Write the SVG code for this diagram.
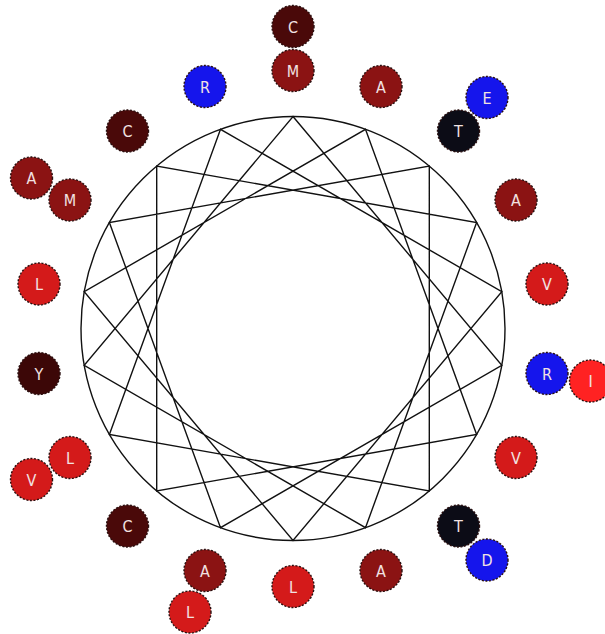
<svg xmlns="http://www.w3.org/2000/svg" width="605" height="634" viewBox="0 0 605 634">
<style>
.res circle{stroke:#2a1010;stroke-width:1.4;stroke-dasharray:2 1.6;}
.res text{font-family:"DejaVu Sans Condensed","DejaVu Sans",sans-serif;font-size:16px;fill:#f2e2e2;text-anchor:middle;}
.c{fill:#4a0909;} .m{fill:#8b1313;} .l{fill:#d41a1a;} .i{fill:#ff2222;} .b{fill:#1515ec;} .t{fill:#0c0c16;} .y{fill:#3c0707;}
.wire{fill:none;stroke:#111;stroke-width:1.4;}
</style>
<rect width="605" height="634" fill="#fff"/>
<g id="connectors">
<circle class="wire" cx="293" cy="328.5" r="212"/>
<polygon class="wire" points="293,116.5 501.8,365.3 220.5,527.7 109.4,222.5 429.3,166.1 429.3,490.9 109.4,434.5 220.5,129.3 501.8,291.7 293,540.5 84.2,291.7 365.5,129.3 476.6,434.5 156.7,490.9 156.7,166.1 476.6,222.5 365.5,527.7 84.2,365.3"/>
</g>
<g id="res-C-top" class="res"><circle class="c" cx="293" cy="26.5" r="21"/><text x="293" y="32.5">C</text></g>
<g id="res-E" class="res"><circle class="b" cx="487" cy="97.5" r="21"/><text x="487" y="103.5">E</text></g>
<g id="res-I" class="res"><circle class="i" cx="590.5" cy="381" r="21"/><text x="590.5" y="387">I</text></g>
<g id="res-D" class="res"><circle class="b" cx="487" cy="560" r="21"/><text x="487" y="566">D</text></g>
<g id="res-L-outer" class="res"><circle class="l" cx="190" cy="612" r="21"/><text x="190" y="618">L</text></g>
<g id="res-V-outer" class="res"><circle class="l" cx="31.5" cy="479.5" r="21"/><text x="31.5" y="485.5">V</text></g>
<g id="res-A-outer" class="res"><circle class="m" cx="31.5" cy="178" r="21"/><text x="31.5" y="184">A</text></g>
<g id="res-M-top" class="res"><circle class="m" cx="293" cy="70.5" r="21"/><text x="293" y="76.5">M</text></g>
<g id="res-A-20" class="res"><circle class="m" cx="381" cy="86.5" r="21"/><text x="381" y="92.5">A</text></g>
<g id="res-T-40" class="res"><circle class="t" cx="458.5" cy="131" r="21"/><text x="458.5" y="137">T</text></g>
<g id="res-A-60" class="res"><circle class="m" cx="516" cy="200" r="21"/><text x="516" y="206">A</text></g>
<g id="res-V-80" class="res"><circle class="l" cx="547" cy="284" r="21"/><text x="547" y="290">V</text></g>
<g id="res-R-100" class="res"><circle class="b" cx="547" cy="373.5" r="21"/><text x="547" y="379.5">R</text></g>
<g id="res-V-120" class="res"><circle class="l" cx="516" cy="457.5" r="21"/><text x="516" y="463.5">V</text></g>
<g id="res-T-140" class="res"><circle class="t" cx="458.5" cy="526" r="21"/><text x="458.5" y="532">T</text></g>
<g id="res-A-160" class="res"><circle class="m" cx="381" cy="570.5" r="21"/><text x="381" y="576.5">A</text></g>
<g id="res-L-180" class="res"><circle class="l" cx="293" cy="586.5" r="21"/><text x="293" y="592.5">L</text></g>
<g id="res-A-200" class="res"><circle class="m" cx="205" cy="570.5" r="21"/><text x="205" y="576.5">A</text></g>
<g id="res-C-220" class="res"><circle class="c" cx="127.5" cy="526" r="21"/><text x="127.5" y="532">C</text></g>
<g id="res-L-240" class="res"><circle class="l" cx="70" cy="457.5" r="21"/><text x="70" y="463.5">L</text></g>
<g id="res-Y-260" class="res"><circle class="y" cx="39" cy="373.5" r="21"/><text x="39" y="379.5">Y</text></g>
<g id="res-L-280" class="res"><circle class="l" cx="39" cy="284" r="21"/><text x="39" y="290">L</text></g>
<g id="res-M-300" class="res"><circle class="m" cx="70" cy="200" r="21"/><text x="70" y="206">M</text></g>
<g id="res-C-320" class="res"><circle class="c" cx="127.5" cy="131" r="21"/><text x="127.5" y="137">C</text></g>
<g id="res-R-340" class="res"><circle class="b" cx="205" cy="86.5" r="21"/><text x="205" y="92.5">R</text></g>
</svg>
